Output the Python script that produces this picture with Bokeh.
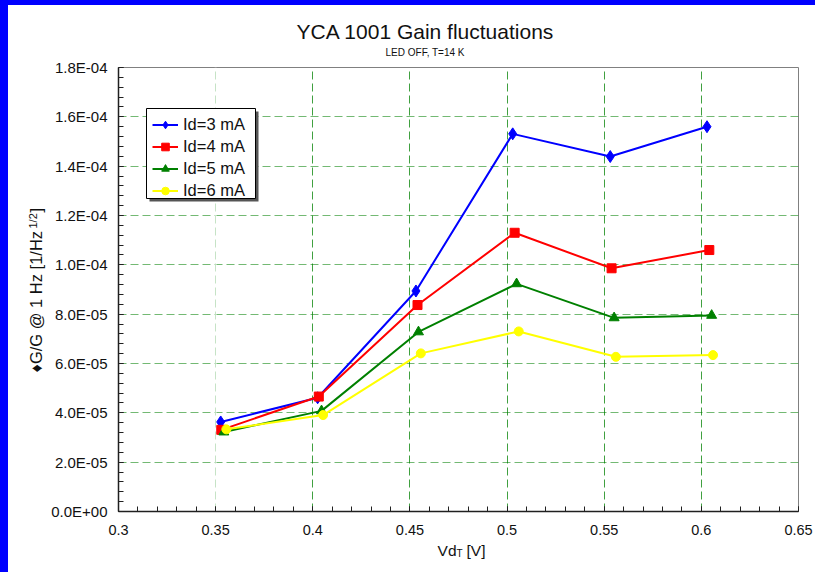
import math

from bokeh.embed import file_html
from bokeh.layouts import column, row
from bokeh.models import (BoxAnnotation, CustomJSTickFormatter, Div, Label, Legend,
                          LegendItem, Range1d, SingleIntervalTicker, Span)
from bokeh.plotting import figure
from bokeh.resources import INLINE

# Gain fluctuation (dG/G at 1 Hz) versus drain voltage, one series per drain current
vd_3ma = [0.3526, 0.4025, 0.4531, 0.5029, 0.5531, 0.6029]
dg_3ma = [3.63e-5, 4.61e-5, 8.94e-5, 1.531e-4, 1.439e-4, 1.560e-4]

vd_4ma = [0.3529, 0.4031, 0.4539, 0.5039, 0.5538, 0.6041]
dg_4ma = [3.31e-5, 4.66e-5, 8.37e-5, 1.130e-4, 9.86e-5, 1.060e-4]

vd_5ma = [0.3542, 0.4045, 0.4544, 0.5049, 0.5551, 0.6053]
dg_5ma = [3.22e-5, 4.08e-5, 7.28e-5, 9.23e-5, 7.85e-5, 7.95e-5]

vd_6ma = [0.3555, 0.4053, 0.4556, 0.5060, 0.5560, 0.6060]
dg_6ma = [3.33e-5, 3.91e-5, 6.41e-5, 7.30e-5, 6.27e-5, 6.34e-5]

series_labels = ["Id=3 mA", "Id=4 mA", "Id=5 mA", "Id=6 mA"]
series_colors = ["#0000FF", "#FF0000", "#008000", "#FFFF00"]
series_markers = ["diamond", "square", "triangle", "circle"]
marker_sizes = [12, 9, 10, 9]

x_range = (0.3, 0.65)
y_range = (0.0, 1.8e-4)
faded_grid_x = 0.35   # first vertical grid line is drawn paler

FONT = "Liberation Sans"
INK = "#111111"

p = figure(width=807, height=567, output_backend="svg", toolbar_location=None,
           x_range=Range1d(*x_range), y_range=Range1d(*y_range),
           min_border_left=110, min_border_right=17, min_border_top=62,
           min_border_bottom=61)
p.background_fill_color = "white"
p.border_fill_color = "white"
p.outline_line_color = "#808080"
p.outline_line_width = 1

# axes
p.xaxis.ticker = SingleIntervalTicker(interval=0.05, num_minor_ticks=5)
p.yaxis.ticker = SingleIntervalTicker(interval=2e-5, num_minor_ticks=5)
p.xaxis.formatter = CustomJSTickFormatter(code="return parseFloat(tick.toFixed(2)).toString();")
p.yaxis.formatter = CustomJSTickFormatter(code="""
    const parts = tick.toExponential(1).split('e');
    const e = parseInt(parts[1]);
    return parts[0] + 'E' + (e < 0 ? '-' : '+') + String(Math.abs(e)).padStart(2, '0');
""")
for ax in (p.xaxis, p.yaxis):
    ax.axis_line_color = "#202020"
    ax.axis_line_width = 1.5
    ax.major_tick_line_color = "#202020"
    ax.minor_tick_line_color = "#202020"
    ax.major_tick_in = 5
    ax.major_tick_out = 0
    ax.minor_tick_in = 5
    ax.minor_tick_out = 0
    ax.major_label_text_font = FONT
    ax.major_label_text_color = INK
p.xaxis.major_label_text_font_size = "14.5px"
p.yaxis.major_label_text_font_size = "15px"
p.xaxis.major_label_standoff = 13
p.yaxis.major_label_standoff = 11

# dashed green grid
p.xgrid.grid_line_color = "#008000"
p.xgrid.grid_line_alpha = 0.75
p.xgrid.grid_line_dash = "8 4"
p.ygrid.grid_line_color = "#008000"
p.ygrid.grid_line_alpha = 0.55
p.ygrid.grid_line_dash = "8 4"
# wash out the first vertical grid line
p.add_layout(Span(location=faded_grid_x, dimension="height", line_color="white",
                  line_alpha=0.7, line_width=2, level="underlay"))

# series
xs = [vd_3ma, vd_4ma, vd_5ma, vd_6ma]
ys = [dg_3ma, dg_4ma, dg_5ma, dg_6ma]
items = []
for x, y, lab, col, mk, sz in zip(xs, ys, series_labels, series_colors,
                                  series_markers, marker_sizes):
    lr = p.line(x, y, line_color=col, line_width=2)
    mr = p.scatter(x, y, marker=mk, size=sz, fill_color=col, line_color=col)
    items.append(LegendItem(label=lab, renderers=[lr, mr]))

# legend frame: drop shadow, then a white box with a black border
box_kw = dict(left_units="screen", right_units="screen",
              top_units="screen", bottom_units="screen")
p.add_layout(BoxAnnotation(left=31, right=140, top=400, bottom=310,
                           fill_color="#555555", fill_alpha=1.0, line_color=None,
                           **box_kw))
p.add_layout(BoxAnnotation(left=28, right=137, top=403, bottom=313,
                           fill_color="white", fill_alpha=1.0,
                           line_color="black", line_width=1, line_alpha=1.0,
                           **box_kw))
legend = Legend(items=items, location=(34, 311), orientation="vertical",
                label_text_font=FONT, label_text_font_size="16.5px",
                label_text_color=INK,
                label_height=19, glyph_height=19, glyph_width=26,
                label_standoff=5, spacing=3, padding=4, margin=0,
                border_line_color=None, background_fill_alpha=0.0)
p.add_layout(legend, "center")


def canvas_label(text, x, y, size, align="left", baseline="alphabetic", angle=0.0):
    return Label(x=x, y=y, x_units="canvas", y_units="canvas", text=text,
                 angle=angle, text_align=align, text_baseline=baseline,
                 text_font=FONT, text_font_size=size, text_color=INK)


# titles
p.add_layout(canvas_label("YCA 1001 Gain fluctuations", 417, 26, "21px", "center"), "above")
p.add_layout(canvas_label("LED OFF,  T=14 K", 418, 47, "10px", "center"), "above")

# y axis title: dG/G @ 1 Hz [1/Hz^(1/2)]
rot = math.pi / 2
p.add_layout(canvas_label("\u2666G/G @ 1 Hz [1/Hz", 27, 367, "16.5px",
                          "left", "middle", rot), "left")
p.add_layout(canvas_label("1/2", 24, 223, "11px", "left", "middle", rot), "above")
p.add_layout(canvas_label("]", 27, 207, "16.5px", "left", "middle", rot), "above")

# x axis title: Vd with subscript T
p.add_layout(canvas_label("Vd", 448, 545, "15.5px", "right"), "below")
p.add_layout(canvas_label("T", 448, 548, "10px", "left"), "right")
p.add_layout(canvas_label("[V]", 458, 545, "15.5px", "left"), "left")

# blue frame strips on the top and left of the page
top_strip = Div(text="", width=815, height=5, margin=0,
                styles={"background-color": "#0000FF"})
left_strip = Div(text="", width=8, height=567, margin=0,
                 styles={"background-color": "#0000FF"})
page = column(top_strip, row(left_strip, p, spacing=0), spacing=0)

open("out.html", "w").write(file_html(page, INLINE))
